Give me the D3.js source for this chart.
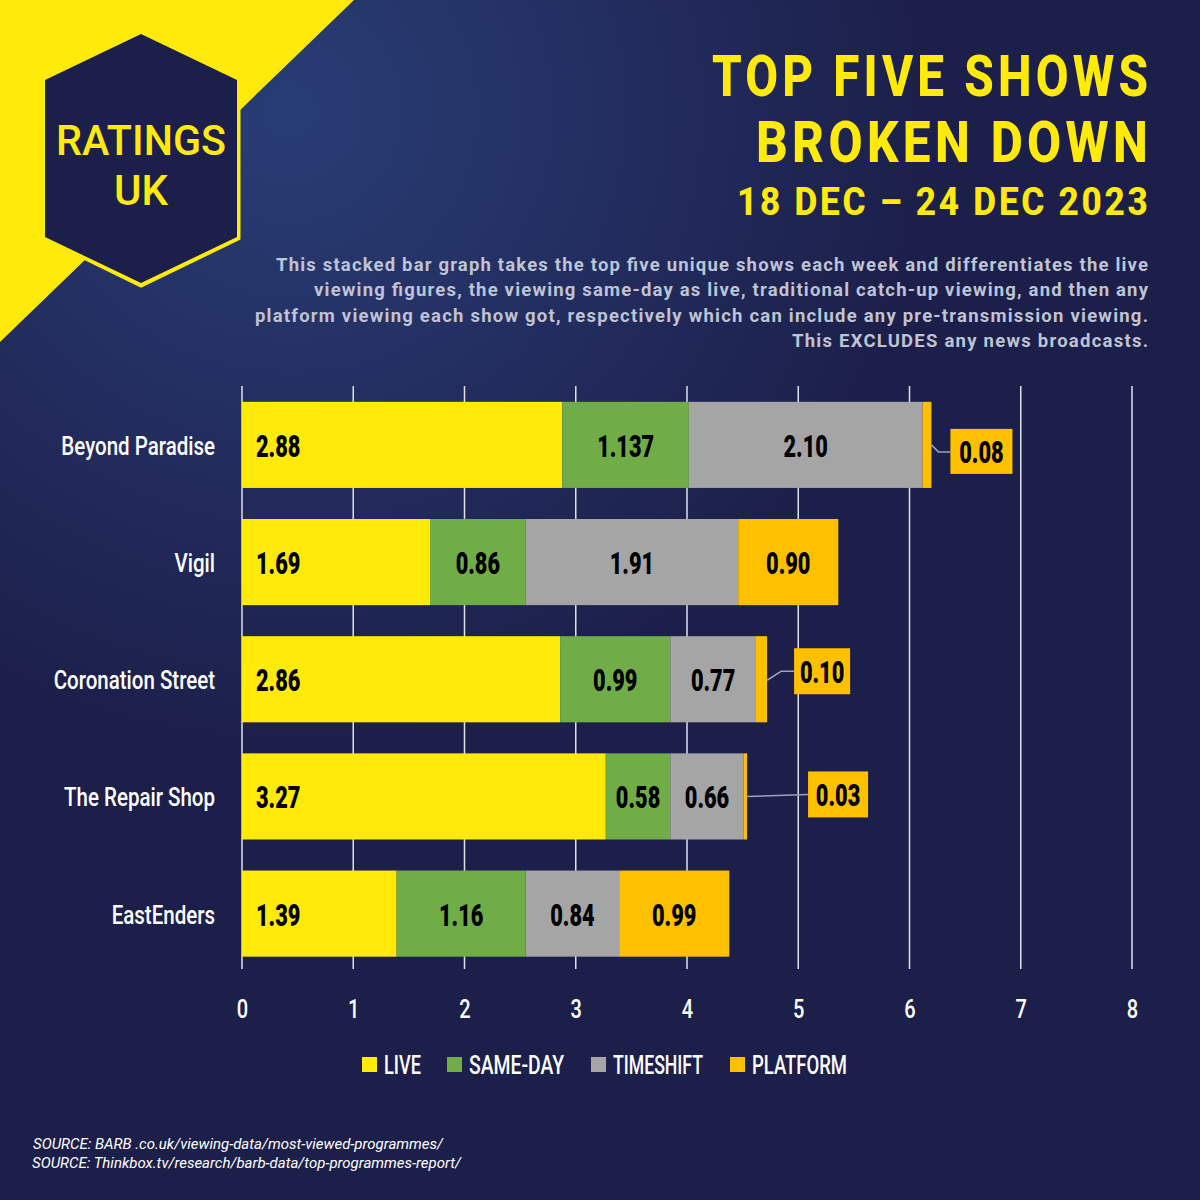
<!DOCTYPE html>
<html>
<head>
<meta charset="utf-8">
<script src="https://cdn.jsdelivr.net/npm/d3@7"></script>
<style>
html,body{margin:0;padding:0;background:#1c1f4a;}
svg{display:block;}
text{font-family:Roboto,"Liberation Sans",sans-serif;}
</style>
</head>
<body>
<svg id="output" width="1200" height="1200"></svg>
<script>
const shows = ["Beyond Paradise", "Vigil", "Coronation Street", "The Repair Shop", "EastEnders"];
const seriesNames = ["LIVE", "SAME-DAY", "TIMESHIFT", "PLATFORM"];
const live = [2.88, 1.69, 2.86, 3.27, 1.39];
const sameDay = [1.137, 0.86, 0.99, 0.58, 1.16];
const timeshift = [2.10, 1.91, 0.77, 0.66, 0.84];
const platform = [0.08, 0.90, 0.10, 0.03, 0.99];
const liveLabels = ["2.88", "1.69", "2.86", "3.27", "1.39"];
const sameDayLabels = ["1.137", "0.86", "0.99", "0.58", "1.16"];
const timeshiftLabels = ["2.10", "1.91", "0.77", "0.66", "0.84"];
const platformLabels = ["0.08", "0.90", "0.10", "0.03", "0.99"];
const xTicks = [0, 1, 2, 3, 4, 5, 6, 7, 8];
const colors = ["#ffea0a", "#70ad47", "#a5a5a5", "#ffc000"];
const titleLines = ["TOP FIVE SHOWS", "BROKEN DOWN", "18 DEC – 24 DEC 2023"];
const introLines = [
  "This stacked bar graph takes the top five unique shows each week and differentiates the live",
  "viewing figures, the viewing same-day as live, traditional catch-up viewing, and then any",
  "platform viewing each show got, respectively which can include any pre-transmission viewing.",
  "This EXCLUDES any news broadcasts."
];
const sources = [
  "SOURCE: BARB .co.uk/viewing-data/most-viewed-programmes/",
  "SOURCE: Thinkbox.tv/research/barb-data/top-programmes-report/"
];

const svg = d3.select("#output");

// squeeze text horizontally, the original uses a condensed DIN
function condense(sel, k){
  sel.each(function(){
    this.setAttribute("textLength", this.getComputedTextLength() * k);
    this.setAttribute("lengthAdjust", "spacingAndGlyphs");
  });
  return sel;
}
function fitTo(sel, w){
  sel.attr("textLength", w).attr("lengthAdjust", "spacingAndGlyphs");
  return sel;
}

// background
const grad = svg.append("defs").append("radialGradient")
  .attr("id", "bg").attr("gradientUnits", "userSpaceOnUse")
  .attr("cx", 290).attr("cy", 110).attr("r", 640);
grad.append("stop").attr("offset", "0").attr("stop-color", "#283d75");
grad.append("stop").attr("offset", "0.5").attr("stop-color", "#232e60");
grad.append("stop").attr("offset", "1").attr("stop-color", "#1c1f4a");
svg.append("rect").attr("width", 1200).attr("height", 1200).attr("fill", "url(#bg)");
svg.append("path").attr("d", "M0,0L354,0L0,342Z").attr("fill", colors[0]);

// logo
svg.append("path").attr("d", "M141,34L238,81L238,238L141,285L45,238L45,81Z")
  .attr("fill", "#1c1f4a").attr("stroke", colors[0]).attr("stroke-width", 5);
svg.append("path").attr("d", "M141,34L237,80L237,237L141,283L45,237L45,80Z").attr("fill", "#1c1f4a");
svg.append("text").attr("x", 141).attr("y", 155).attr("text-anchor", "middle").attr("font-weight", 500)
  .attr("font-size", 42).attr("fill", colors[0]).text("RATINGS").call(fitTo, 170);
svg.append("text").attr("x", 141).attr("y", 205).attr("text-anchor", "middle").attr("font-weight", 500)
  .attr("font-size", 42).attr("fill", colors[0]).text("UK").call(fitTo, 54);

// titles, letter-spaced like the original, scaled to width from the left edge
const titleW = [436, 392, 411];
const titleY = [96, 162, 215];
const titleSize = [57, 57, 39];
const titleG = svg.append("g").attr("fill", colors[0]).attr("font-weight", 800);
titleLines.forEach((line, i) => {
  const ls = i < 2 ? 5 : 3;
  const t = titleG.append("text").attr("font-size", titleSize[i]).attr("letter-spacing", ls).text(line);
  const k = titleW[i] / (t.node().getComputedTextLength() - ls);
  t.attr("transform", `translate(${1148 - titleW[i]},${titleY[i]}) scale(${k},1)`);
});

const introWidths = [872, 834, 893, 356];
svg.append("g").attr("text-anchor", "end").attr("fill", "#bfc3d3").attr("font-weight", 700).attr("font-size", 18.5)
  .selectAll("text").data(introLines).join("text")
  .attr("x", 1148).attr("y", (d, i) => 271 + i * 25.4)
  .text(d => d)
  .attr("textLength", (d, i) => introWidths[i]).attr("lengthAdjust", "spacing");

// scales
const xScale = d3.scaleLinear().domain([0, 8]).range([242, 1132]);
const yScale = d3.scaleBand().domain(shows).range([386, 972.5]).paddingInner(0.265).paddingOuter(0.135);

// grid lines
svg.append("g").selectAll("line").data(xTicks).join("line")
  .attr("x1", d => xScale(d)).attr("x2", d => xScale(d))
  .attr("y1", 386).attr("y2", 969)
  .attr("stroke", "#dfe1ea").attr("stroke-width", 1.5);

// stacked bars
const rows = shows.map((s, i) => ({show: s, LIVE: live[i], "SAME-DAY": sameDay[i], TIMESHIFT: timeshift[i], PLATFORM: platform[i]}));
const stacked = d3.stack().keys(seriesNames)(rows);
const labelSets = [liveLabels, sameDayLabels, timeshiftLabels, platformLabels];

svg.append("g").selectAll("g").data(stacked).join("g")
  .attr("fill", (d, i) => colors[i])
  .selectAll("rect").data(d => d).join("rect")
  .attr("x", d => xScale(d[0]))
  .attr("y", d => yScale(d.data.show))
  .attr("width", d => xScale(d[1]) - xScale(d[0]))
  .attr("height", yScale.bandwidth());

// bar labels, thin platform slices get a callout instead
const labelG = svg.append("g").attr("font-size", 32).attr("font-weight", 900).attr("fill", "#000");
stacked.forEach((layer, s) => {
  layer.forEach((d, i) => {
    if (s === 3 && d[1] - d[0] < 0.2) return;
    const t = labelG.append("text")
      .attr("y", yScale(d.data.show) + yScale.bandwidth() / 2 + 12)
      .text(labelSets[s][i]);
    if (s === 0) t.attr("x", xScale(0) + 14);
    else t.attr("x", (xScale(d[0]) + xScale(d[1])) / 2).attr("text-anchor", "middle");
    condense(t, 0.68);
  });
});

// callouts for the thin slices, offsets in pixels from the end of the bar
const callouts = [
  {row: 0, dx: 19, dy: -16, w: 62, h: 45, line: [[0, 0], [7, 7], [19, 7]]},
  {row: 2, dx: 27, dy: -31, w: 56, h: 46, line: [[0, 1], [14, -8], [27, -8]]},
  {row: 3, dx: 61, dy: -25, w: 60, h: 46, line: [[0, 0], [61, -2]]}
];
const lineGen = d3.line();
callouts.forEach(c => {
  const d = stacked[3][c.row];
  const ex = xScale(d[1]);
  const my = yScale(d.data.show) + yScale.bandwidth() / 2;
  svg.append("path").attr("fill", "none").attr("stroke", "#9aa2ba").attr("stroke-width", 1.5)
    .attr("d", lineGen(c.line.map(p => [ex + p[0], my + p[1]])));
  svg.append("rect").attr("x", ex + c.dx).attr("y", my + c.dy).attr("width", c.w).attr("height", c.h).attr("fill", colors[3]);
  const t = svg.append("text").attr("x", ex + c.dx + c.w / 2).attr("y", my + c.dy + c.h / 2 + 12)
    .attr("text-anchor", "middle").attr("font-size", 32).attr("font-weight", 900).attr("fill", "#000")
    .text(platformLabels[c.row]);
  condense(t, 0.68);
});

// axes
const xAxis = svg.append("g").attr("transform", "translate(0,996)")
  .call(d3.axisBottom(xScale).tickValues(xTicks).tickFormat(d3.format("d")).tickSize(0).tickPadding(4));
xAxis.select(".domain").remove();
xAxis.selectAll("text").attr("font-size", 25).attr("font-weight", 500).attr("fill", "#fff")
  .style("font-family", "Roboto").call(condense, 0.8);

const yAxis = svg.append("g").attr("transform", "translate(215,2)")
  .call(d3.axisLeft(yScale).tickSize(0).tickPadding(0));
yAxis.select(".domain").remove();
yAxis.selectAll("text").attr("font-size", 25).attr("font-weight", 500).attr("fill", "#fff")
  .style("font-family", "Roboto").call(condense, 0.82);

// legend
const legendX = [362, 447, 591, 730];
const legendW = [37, 95, 90, 95];
const legend = svg.append("g").selectAll("g").data(seriesNames).join("g")
  .attr("transform", (d, i) => `translate(${legendX[i]},1057)`);
legend.append("rect").attr("width", 15).attr("height", 15).attr("fill", (d, i) => colors[i]);
legend.append("text").attr("x", 22).attr("y", 17).attr("font-size", 25).attr("font-weight", 500).attr("fill", "#fff")
  .text(d => d)
  .attr("textLength", (d, i) => legendW[i]).attr("lengthAdjust", "spacingAndGlyphs");

// sources
const sourceX = [33, 32];
const sourceW = [410, 429];
svg.append("g").attr("font-size", 15).attr("font-style", "italic").attr("fill", "#fff")
  .selectAll("text").data(sources).join("text")
  .attr("x", (d, i) => sourceX[i]).attr("y", (d, i) => 1149 + i * 19)
  .text(d => d)
  .attr("textLength", (d, i) => sourceW[i]).attr("lengthAdjust", "spacingAndGlyphs");
</script>
</body>
</html>
